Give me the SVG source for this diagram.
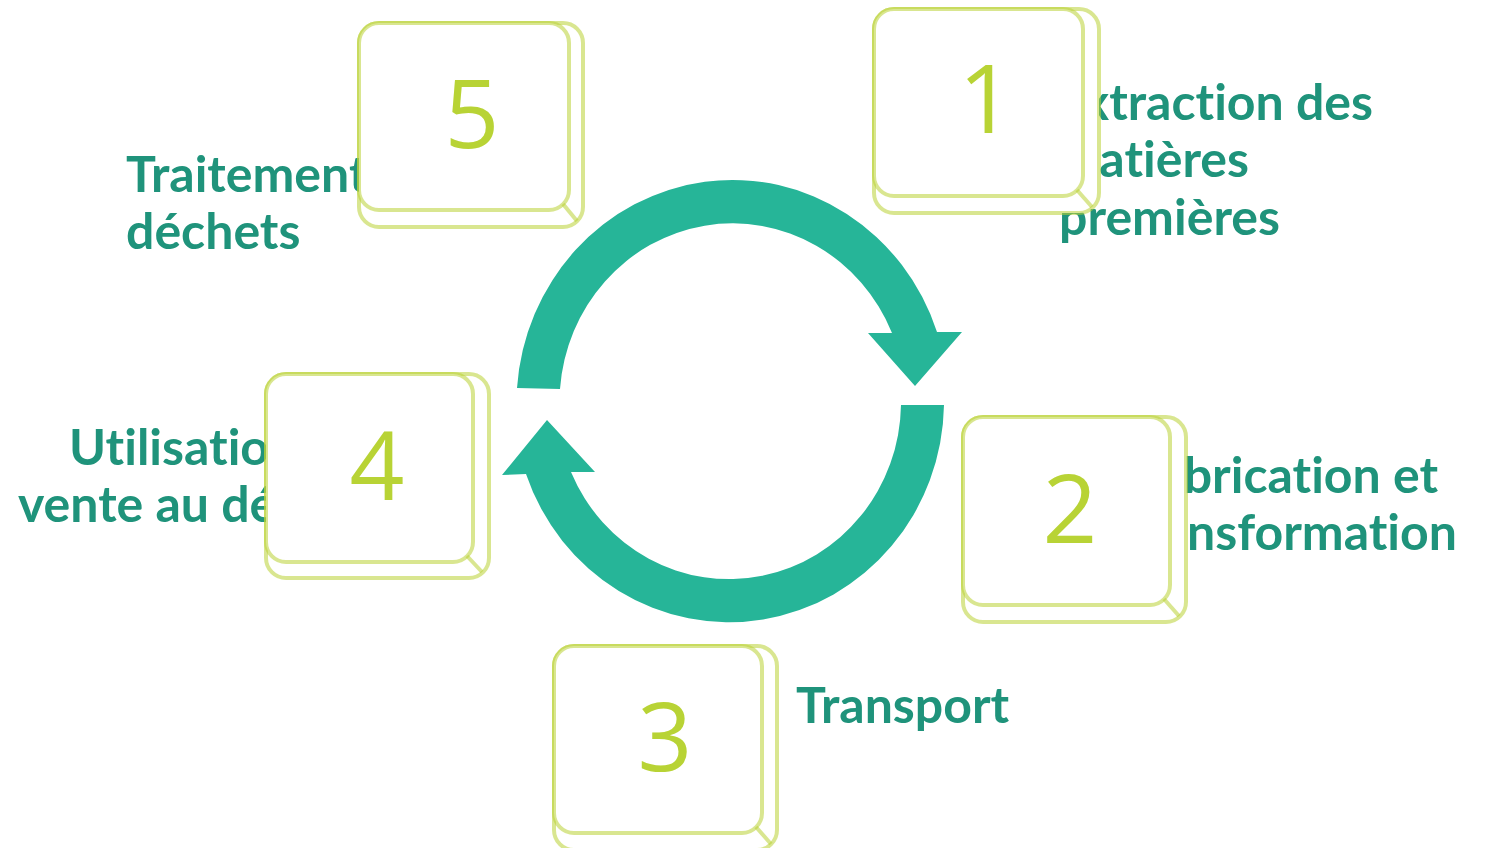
<svg xmlns="http://www.w3.org/2000/svg" width="1489" height="848" viewBox="0 0 1489 848">
<style>
.lbl{font-family:Lato,"Open Sans","Liberation Sans",sans-serif;font-weight:700;font-size:50px;fill:#1F937B;font-variant-ligatures:none;font-feature-settings:"liga" 0}
.num{font-family:"Open Sans","Liberation Sans",sans-serif;font-weight:400;font-size:96px;fill:#B8D335;text-anchor:middle}
.key rect,.key line{fill:#fff;stroke:#B9D234;stroke-opacity:0.55;stroke-width:4}
.arr{fill:#26B598}
</style>
<rect width="1489" height="848" fill="#fff"/>
<g id="connectors">
<path class="arr" d="M 517 388 A 216 224 0 0 1 937 332 L 962 332 L 915 386 L 868 333 L 892 333 A 173 179 0 0 0 560 389 Z"/>
<path class="arr" d="M 944 405 A 215 221 0 0 1 526 474 L 502 475 L 547 420 L 595 472 L 571 472 A 172 177 0 0 0 901 405 Z"/>
</g>
<g id="labels">
<text class="lbl" text-anchor="end"><tspan x="1373" y="120">Extraction des</tspan><tspan x="1249" y="177">matières</tspan><tspan x="1280" y="235">premières</tspan></text>
<text class="lbl" text-anchor="end"><tspan x="1438" y="493">Fabrication et</tspan><tspan x="1457" y="550">transformation</tspan></text>
<text class="lbl"><tspan x="796" y="723">Transport</tspan></text>
<text class="lbl"><tspan x="69" y="465">Utilisation</tspan><tspan x="18" y="522">vente au détail</tspan></text>
<text class="lbl"><tspan x="126" y="192">Traitement des</tspan><tspan x="126" y="249">déchets</tspan></text>
</g>
<g id="node1" class="key">
<rect x="874" y="9" width="225" height="204" rx="20"/>
<rect x="874" y="9" width="209" height="187" rx="20"/>
<line x1="1077" y1="190" x2="1092" y2="207"/>
<text class="num" x="986" y="133">1</text>
</g>
<g id="node2" class="key">
<rect x="963" y="417" width="223" height="205" rx="20"/>
<rect x="963" y="417" width="207" height="188" rx="20"/>
<line x1="1164" y1="599" x2="1179" y2="616"/>
<text class="num" x="1070" y="543">2</text>
</g>
<g id="node3" class="key">
<rect x="554" y="646" width="223" height="204" rx="20"/>
<rect x="554" y="646" width="208" height="187" rx="20"/>
<line x1="756" y1="827" x2="771" y2="844"/>
<text class="num" x="665" y="771">3</text>
</g>
<g id="node4" class="key">
<rect x="266" y="374" width="223" height="204" rx="20"/>
<rect x="266" y="374" width="207" height="188" rx="20"/>
<line x1="467" y1="556" x2="482" y2="572"/>
<text class="num" x="377" y="500">4</text>
</g>
<g id="node5" class="key">
<rect x="359" y="23" width="224" height="204" rx="20"/>
<rect x="359" y="23" width="210" height="187" rx="20"/>
<line x1="563" y1="204" x2="577" y2="221"/>
<text class="num" x="472" y="148">5</text>
</g>
</svg>
